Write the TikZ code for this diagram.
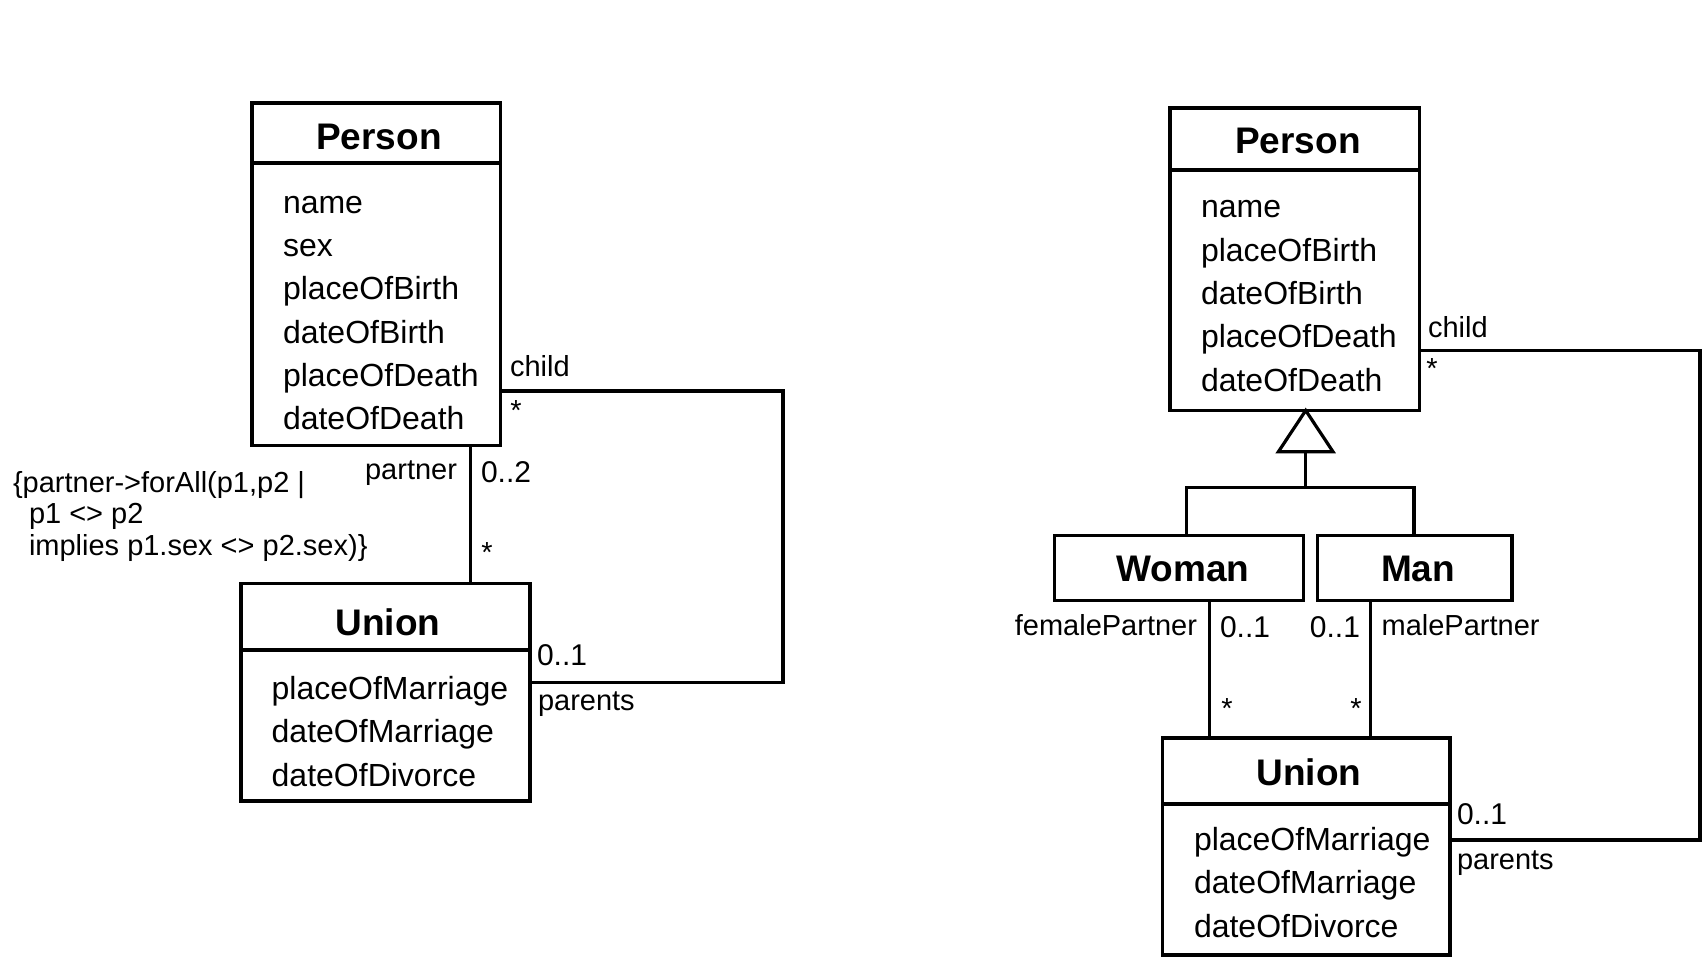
\documentclass[tikz,border=0pt]{standalone}
\usepackage{fontspec}
\setmainfont{Liberation Sans}
\usetikzlibrary{fit}
\begin{document}
\begin{tikzpicture}[x=0.5pt,y=-0.5pt,
  umlbox/.style={draw, line width=1.7pt, inner sep=0pt, outer sep=0pt},
  conn/.style={line width=1.6pt},
  divider/.style={line width=1.8pt},
  title/.style={anchor=base, inner sep=0pt, outer sep=0pt, font=\fontsize{18.5}{22}\selectfont\bfseries},
  attr/.style={anchor=base west, inner sep=0pt, outer sep=0pt, font=\fontsize{16}{19}\selectfont},
  lbl/.style={inner sep=0pt, outer sep=0pt, font=\fontsize{14.5}{17}\selectfont},
  mult/.style={inner sep=0pt, outer sep=0pt, font=\fontsize{15}{18}\selectfont},
]
\fill[white] (0,0) rectangle (1703,957);
\useasboundingbox (0,0) rectangle (1703,957);

% ---------------- left model: Person with a sex attribute ----------------
\coordinate (lp-nw) at (252,103);   \coordinate (lp-se) at (500.5,445.5);
\node[umlbox, fit=(lp-nw)(lp-se)] (lp) {};
\coordinate (lp-div) at (0,163);
\draw[divider] (lp.west |- lp-div) -- (lp.east |- lp-div);
\node[title] (lp-t) at (379,150) {Person};
\foreach \t [count=\i] in {name,sex,placeOfBirth,dateOfBirth,placeOfDeath,dateOfDeath}
  \node[attr] (lp-a\i) at (283,{213.2+43.3*(\i-1)}) {\t};

\coordinate (lu-nw) at (241,583.3); \coordinate (lu-se) at (530,801);
\node[umlbox, fit=(lu-nw)(lu-se)] (lu) {};
\coordinate (lu-div) at (0,650);
\draw[divider] (lu.west |- lu-div) -- (lu.east |- lu-div);
\node[title] (lu-t) at (388,635) {Union};
\foreach \t [count=\i] in {placeOfMarriage,dateOfMarriage,dateOfDivorce}
  \node[attr] (lu-a\i) at (271.7,{699.5+43.3*(\i-1)}) {\t};

% partner association
\coordinate (lpx) at (470.5,0);
\draw[conn] (lp.south -| lpx) -- (lu.north -| lpx);
\node[lbl, anchor=base east] (l-partner) at (457,479.5) {partner};
\node[mult, anchor=base west] (l-m02) at (481,482.5) {0..2};
\node[lbl, anchor=base] (l-pstar) at (487,562) {*};
\node[lbl, anchor=base west] (c1) at (13,492) {\{partner->forAll(p1,p2 |};
\node[lbl, anchor=base west] (c2) at (29,523.5) {p1 <> p2};
\node[lbl, anchor=base west] (c3) at (29,555) {implies p1.sex <> p2.sex)\}};

% child / parents association
\coordinate (lk1) at (783,391); \coordinate (lk2) at (783,682.7);
\draw[conn] (lp.east |- lk1) -- (lk1) -- (lk2) -- (lu.east |- lk2);
\node[lbl, anchor=base west] (l-child) at (510,376) {child};
\node[lbl, anchor=base] (l-cstar) at (516,420.5) {*};
\node[mult, anchor=base west] (l-m01) at (537,665) {0..1};
\node[lbl, anchor=base west] (l-parents) at (538,710.5) {parents};

% ---------------- right model: Woman and Man specialise Person ----------------
\coordinate (rp-nw) at (1170,108);  \coordinate (rp-se) at (1419.5,410.5);
\node[umlbox, fit=(rp-nw)(rp-se)] (rp) {};
\coordinate (rp-div) at (0,170);
\draw[divider] (rp.west |- rp-div) -- (rp.east |- rp-div);
\node[title] (rp-t) at (1298,154) {Person};
\foreach \t [count=\i] in {name,placeOfBirth,dateOfBirth,placeOfDeath,dateOfDeath}
  \node[attr] (rp-a\i) at (1201,{218+43.3*(\i-1)}) {\t};

\coordinate (wo-nw) at (1054.6,535.5); \coordinate (wo-se) at (1303.5,600.6);
\node[umlbox, fit=(wo-nw)(wo-se)] (wo) {};
\node[title] (wo-t) at (1183,581.5) {Woman};

\coordinate (ma-nw) at (1317.4,535.5); \coordinate (ma-se) at (1512,600.6);
\node[umlbox, fit=(ma-nw)(ma-se)] (ma) {};
\node[title] (ma-t) at (1418,581.5) {Man};

% generalization: hollow triangle, stem and fork
\coordinate (gx) at (1305.7,0);
\coordinate (gbase) at (1305.7,451.7);
\coordinate (gfork) at (1305.7,487.7);
\coordinate (gwx) at (1186.7,0);
\coordinate (gmx) at (1414,0);
\draw[conn, line join=miter] (rp.south -| gx) -- ++(27.3,41.2) -- ++(-54.6,0) -- cycle;
\draw[conn] (gbase) -- (gfork);
\draw[conn] (wo.north -| gwx) |- (gfork) -| (ma.north -| gmx);

\coordinate (ru-nw) at (1162.5,738); \coordinate (ru-se) at (1450,955);
\node[umlbox, fit=(ru-nw)(ru-se)] (ru) {};
\coordinate (ru-div) at (0,804);
\draw[divider] (ru.west |- ru-div) -- (ru.east |- ru-div);
\node[title] (ru-t) at (1309,785) {Union};
\foreach \t [count=\i] in {placeOfMarriage,dateOfMarriage,dateOfDivorce}
  \node[attr] (ru-a\i) at (1194,{850.5+43.3*(\i-1)}) {\t};

% femalePartner / malePartner associations
\coordinate (fx) at (1209.3,0);
\coordinate (mx) at (1370.5,0);
\draw[conn] (wo.south -| fx) -- (ru.north -| fx);
\draw[conn] (ma.south -| mx) -- (ru.north -| mx);
\node[lbl, anchor=base east] (r-fp) at (1197,635.5) {femalePartner};
\node[mult, anchor=base west] (r-fm) at (1220,637.3) {0..1};
\node[mult, anchor=base east] (r-mm) at (1360,637.3) {0..1};
\node[lbl, anchor=base west] (r-mp) at (1381.6,635.5) {malePartner};
\node[lbl, anchor=base] (r-fstar) at (1227,718.5) {*};
\node[lbl, anchor=base] (r-mstar) at (1356,718.5) {*};

% child / parents association
\coordinate (rk1) at (1700,350.7); \coordinate (rk2) at (1700,840);
\draw[conn] (rp.east |- rk1) -- (rk1) -- (rk2) -- (ru.east |- rk2);
\node[lbl, anchor=base west] (r-child) at (1428,337) {child};
\node[lbl, anchor=base] (r-cstar) at (1432,378.5) {*};
\node[mult, anchor=base west] (r-m01) at (1457,824) {0..1};
\node[lbl, anchor=base west] (r-parents) at (1457,869) {parents};
\end{tikzpicture}
\end{document}
